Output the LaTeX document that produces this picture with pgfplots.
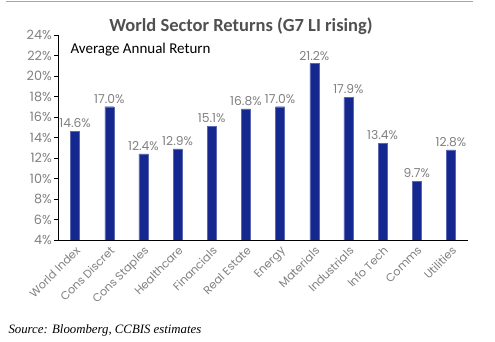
\documentclass[border=0pt]{standalone}
\usepackage{fontspec}
\setmainfont{Poppins}
\newfontfamily\calfont{Carlito}
\newfontfamily\tmsfont{Liberation Serif}
\usepackage{pgfplots}
\pgfplotsset{compat=1.18}
\definecolor{barblue}{HTML}{14288F}
\definecolor{txtgray}{HTML}{808080}
\definecolor{titlegray}{HTML}{505050}
\begin{document}
\begin{tikzpicture}
\path (0pt,0pt) rectangle (495pt,342pt);
\draw[gray!70, line width=1pt] (6pt,340pt) -- (473pt,340pt);
\node[font=\calfont\bfseries\fontsize{18.5}{21}\selectfont, text=titlegray] at (241pt,316pt) {World Sector Returns (G7 LI rising)};
\node[font=\calfont\fontsize{15}{17}\selectfont, anchor=west] at (67pt,292pt) {Average Annual Return};
\node[font=\tmsfont\itshape\fontsize{12.8}{15}\selectfont, anchor=west] at (5pt,12pt) {Source: Bloomberg, CCBIS estimates};
\begin{axis}[
  at={(58pt,102pt)}, anchor=south west,
  width=410pt, height=205pt, scale only axis,
  xmin=-0.5, xmax=11.5, ymin=4, ymax=24,
  axis x line*=bottom, axis y line*=left,
  axis line style={black, line width=0.8pt},
  ytick={4,6,...,24},
  yticklabel={\pgfmathprintnumber{\tick}\%},
  yticklabel style={font=\fontsize{12.8}{14}\selectfont, text=txtgray, inner sep=2pt},
  ytick style={black, line width=0.6pt},
  tick align=outside, major tick length=4pt,
  xtick=data,
  xtick style={draw=none},
  xticklabels={World Index,Cons Discret,Cons Staples,Healthcare,Financials,Real Estate,Energy,Materials,Industrials,Info Tech,Comms,Utilities},
  xticklabel style={font=\fontsize{11.3}{13}\selectfont, text=txtgray, rotate=45, anchor=north east, inner sep=1pt},
  ybar, bar width=9pt,
  nodes near coords={\pgfmathprintnumber[fixed,fixed zerofill,precision=1]{\pgfplotspointmeta}\%},
  nodes near coords style={font=\fontsize{12.3}{14}\selectfont, text=txtgray},
  /pgf/number format/assume math mode=true,
]
\addplot[fill=barblue, draw=barblue!70!white] coordinates {
(0,14.6) (1,17.0) (2,12.4) (3,12.9) (4,15.1) (5,16.8) (6,17.0) (7,21.2) (8,17.9) (9,13.4) (10,9.7) (11,12.8)};
\end{axis}
\end{tikzpicture}
\end{document}
